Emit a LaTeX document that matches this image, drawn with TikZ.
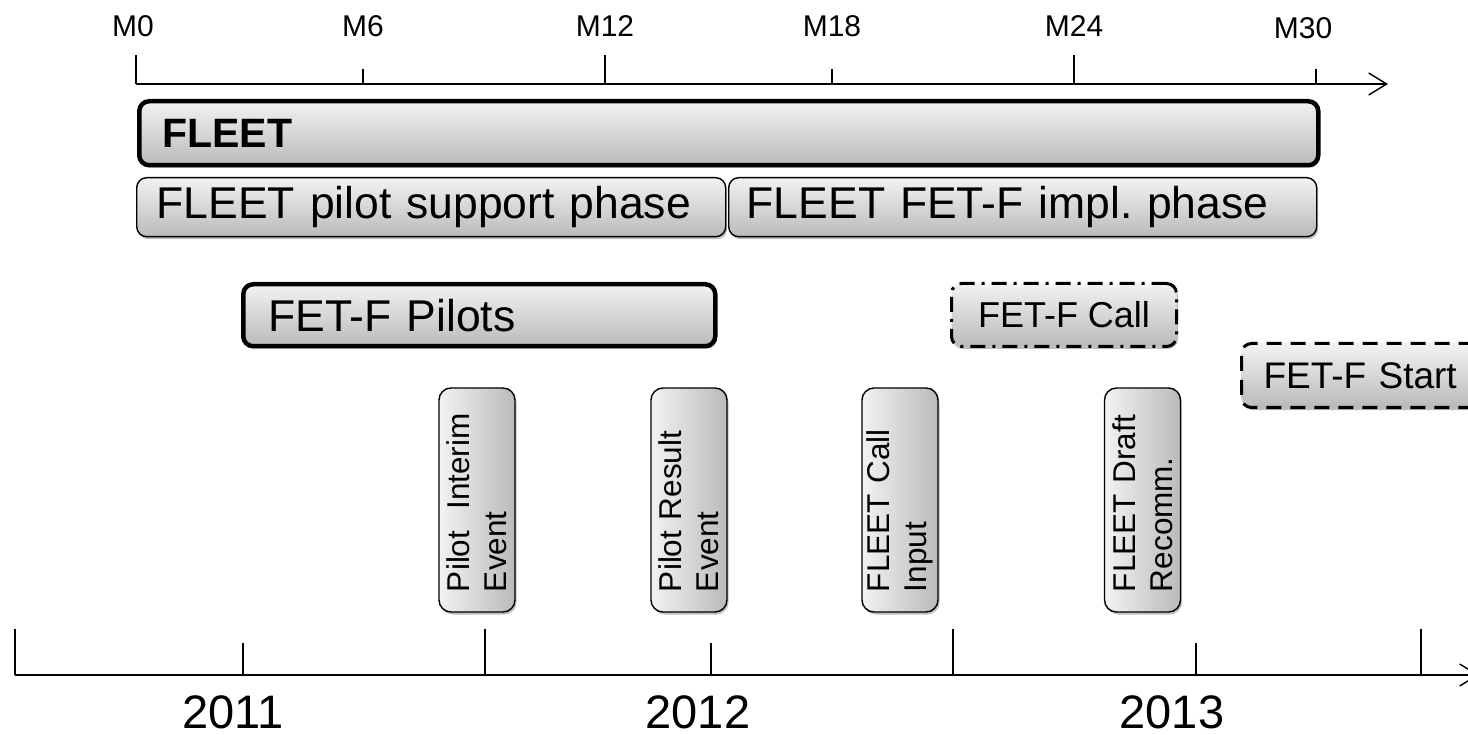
\documentclass[tikz,border=0pt]{standalone}
\usepackage{fontspec}
\setmainfont{Liberation Sans}
\usetikzlibrary{shadows,arrows.meta}
\tikzset{
  gbox/.style={draw=black, rounded corners=10pt, top color=black!5, bottom color=black!27,
    drop shadow={shadow xshift=1.5pt, shadow yshift=-2.5pt, fill=black!50},
    inner ysep=0pt, align=left},
  thickbox/.style={gbox, line width=4.5pt},
  thinbox/.style={gbox, line width=1.4pt},
  bigtext/.style={font=\frenchspacing\fontsize{44.5}{50}\selectfont},
  vbox/.style={draw=black, rounded corners=12pt, left color=black!5, right color=black!27,
    drop shadow={shadow xshift=1.5pt, shadow yshift=-2.5pt, fill=black!50},
    line width=1.4pt, minimum width=76pt, minimum height=224pt, inner sep=0pt},
  vtext/.style={rotate=90, text width=184pt, align=left, inner sep=0pt,
    font=\frenchspacing\fontsize{31.5}{37}\selectfont},
  axis/.style={line width=1.4pt},
  mlabel/.style={font=\fontsize{30}{34}\selectfont, inner sep=0pt},
  ylabel/.style={font=\fontsize{47}{52}\selectfont, inner sep=0pt},
}
\begin{document}
\begin{tikzpicture}[x=1pt,y=-1pt]
\useasboundingbox (0,0) rectangle (1468,735);

% top axis
\coordinate (ta0) at (136,84);
\coordinate (taend) at (1388,84);
\draw[axis, -{Straight Barb[length=18pt,width=22pt,line width=1.4pt]}] (ta0) -- (taend);
\foreach \x/\t in {136/55,363/69,605/55,832/69,1074/55,1316/69}
  \draw[axis] (\x,\t) -- (\x,84);
\node[mlabel] (m0) at (133,26) {M0};
\node[mlabel] (m6) at (363,26) {M6};
\node[mlabel] (m12) at (605,26) {M12};
\node[mlabel] (m18) at (832,26) {M18};
\node[mlabel] (m24) at (1074,26) {M24};
\node[mlabel] (m30) at (1303,28) {M30};

% bars
\node[thickbox, anchor=north west, inner xsep=23pt, text width=1133pt, minimum height=64pt,
      font=\bfseries\fontsize{41}{48}\selectfont] (fleet) at (137,99) {FLEET};
\node[thinbox, bigtext, anchor=north west, inner xsep=20pt, text width=549pt, minimum height=59pt]
  (ph1) at (136,177) {FLEET pilot support phase};
\node[thinbox, bigtext, anchor=north west, inner xsep=18pt, text width=552pt, minimum height=59pt]
  (ph2) at (728,177) {FLEET FET-F impl. phase};
\node[thickbox, bigtext, anchor=north west, inner xsep=25pt, text width=422pt, minimum height=62pt]
  (pilots) at (241,282) {FET-F Pilots};
\node[gbox, line width=3pt, dash pattern=on 15pt off 7pt on 3pt off 7pt, anchor=north west,
      minimum width=225pt, minimum height=63pt, align=center, font=\fontsize{36}{40}\selectfont]
  (call) at (950,282) {FET-F Call};
\node[gbox, line width=3pt, dash pattern=on 15pt off 9pt, anchor=north west,
      inner xsep=22pt, text width=198pt, minimum height=64pt, font=\fontsize{37}{42}\selectfont]
  (start) at (1240,342) {FET-F Start};

% vertical event boxes
\node[vbox] (e1) at (477,500) {};
\node[vtext] (e1t) at (e1.center) {Pilot\ \ Interim\\Event};
\node[vbox] (e2) at (689,500) {};
\node[vtext] (e2t) at (e2.center) {Pilot Result\\Event};
\node[vbox] (e3) at (900,500) {};
\node[vtext] (e3t) at (e3.center) {FLEET Call\\Input};
\node[vbox] (e4) at (1142.5,500) {};
\node[vtext] (e4t) at (e4.center) {FLEET Draft\\Recomm.};

% bottom axis
\coordinate (ba0) at (15,675);
\coordinate (baend) at (1479,675);
\draw[axis, -{Straight Barb[length=18pt,width=22pt,line width=1.4pt]}] (ba0) -- (baend);
\foreach \x/\t in {15/629,243/643,485/629,711/643,953/629,1196/643,1421/629}
  \draw[axis] (\x,\t) -- (\x,675);
\node[ylabel] (y11) at (233,712) {2011};
\node[ylabel] (y12) at (698,712) {2012};
\node[ylabel] (y13) at (1172,712) {2013};
\end{tikzpicture}
\end{document}
